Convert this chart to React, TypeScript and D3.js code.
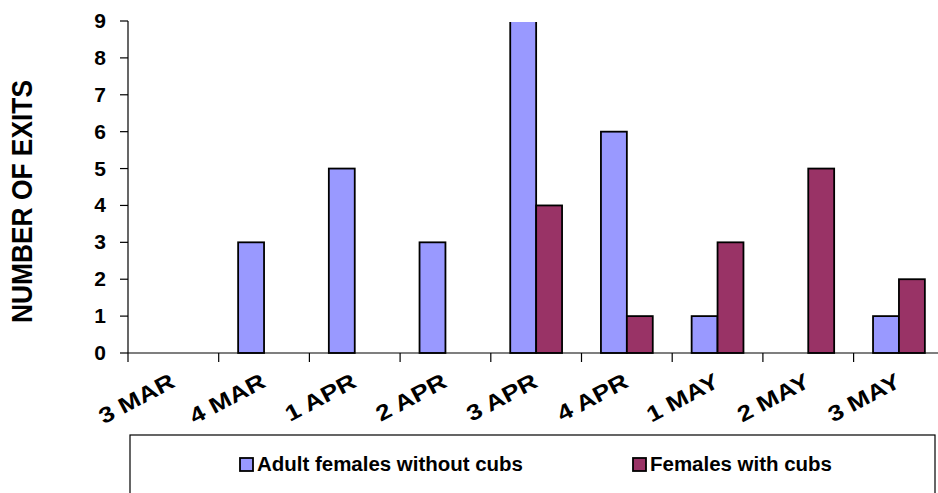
import React from "react";
import * as d3 from "d3";

const categories = ["3 MAR", "4 MAR", "1 APR", "2 APR", "3 APR", "4 APR", "1 MAY", "2 MAY", "3 MAY"];
const seriesNames = ["Adult females without cubs", "Females with cubs"];
const withoutCubs = [0, 3, 5, 3, 9, 6, 1, 0, 1];
const withCubs = [0, 0, 0, 0, 4, 1, 3, 5, 2];
const yTicks = [0, 1, 2, 3, 4, 5, 6, 7, 8, 9];
const colors = ["#9999FF", "#993366"];

const W = 938;
const H = 493;
const FONT = "'Liberation Sans', Arial, sans-serif";

export default function App() {
  const left = 128;
  const step = 90.7;
  const right = left + step * categories.length;
  const top = 21;
  const bottom = 353;

  const x = d3.scaleBand<string>().domain(categories).range([left, right]).paddingInner(0).paddingOuter(0);
  const bw = x.bandwidth();
  const barW = bw / 3.5;
  const x1 = d3
    .scaleBand<string>()
    .domain(seriesNames)
    .range([bw / 2 - barW, bw / 2 + barW]);
  const y = d3.scaleLinear().domain([0, 9]).range([bottom, top]);

  const series = [withoutCubs, withCubs];

  return (
    <svg
      width={W}
      height={H}
      style={{ position: "absolute", left: 0, top: 0, background: "#fff" }}
      fontFamily={FONT}
    >
      <defs>
        <clipPath id="plot">
          <rect x={left} y={top + 1} width={W - left} height={bottom - top + 2} />
        </clipPath>
      </defs>
      <rect x={0} y={0} width={W} height={H} fill="#fff" />

      {/* bars */}
      <g clipPath="url(#plot)">
        {categories.map((c, i) =>
          series.map((s, k) =>
            s[i] > 0 ? (
              <rect
                key={c + k}
                x={(x(c) as number) + (x1(seriesNames[k]) as number)}
                y={y(s[i])}
                width={x1.bandwidth()}
                height={y(0) - y(s[i])}
                fill={colors[k]}
                stroke="#000"
                strokeWidth={1.8}
              />
            ) : null
          )
        )}
      </g>

      {/* y axis */}
      <line x1={left} x2={left} y1={top} y2={bottom} stroke="#000" strokeWidth={1.2} />
      {yTicks.map((t) => (
        <g key={t}>
          <line x1={left - 8} x2={left} y1={y(t)} y2={y(t)} stroke="#000" strokeWidth={1.2} />
          <text
            x={106}
            y={y(t) + 7}
            textAnchor="end"
            fontSize={21}
            fontWeight="bold"
            fill="#000"
          >
            {t}
          </text>
        </g>
      ))}

      {/* x axis */}
      <line x1={left} x2={W} y1={bottom} y2={bottom} stroke="#000" strokeWidth={1.2} />
      {categories.map((c) => (
        <line
          key={"t" + c}
          x1={x(c) as number}
          x2={x(c) as number}
          y1={bottom}
          y2={bottom + 9}
          stroke="#000"
          strokeWidth={1.2}
        />
      ))}
      {categories.map((c) => {
        const cx = (x(c) as number) + bw / 2;
        return (
          <text
            key={"l" + c}
            transform={`translate(${cx + 3},${386}) rotate(-28) scale(1.2,1)`}
            textAnchor="end"
            fontSize={22}
            fontWeight="bold"
            fill="#000"
          >
            {c}
          </text>
        );
      })}

      {/* y title */}
      <text
        transform={`translate(32,201.5) rotate(-90)`}
        textAnchor="middle"
        fontSize={29}
        fontWeight="bold"
        fill="#000"
        textLength={243}
        lengthAdjust="spacingAndGlyphs"
      >
        NUMBER OF EXITS
      </text>

      {/* legend */}
      <rect x={130} y={435} width={805} height={100} fill="#fff" stroke="#000" strokeWidth={1.2} />
      {seriesNames.map((n, k) => {
        const lx = k === 0 ? 240 : 633;
        const tl = k === 0 ? 266 : 182;
        return (
          <g key={n}>
            <rect x={lx} y={458} width={13} height={13} fill={colors[k]} stroke="#000" strokeWidth={1.8} />
            <text
              x={lx + 17}
              y={471}
              fontSize={20}
              fontWeight="bold"
              fill="#000"
              textLength={tl}
              lengthAdjust="spacingAndGlyphs"
            >
              {n}
            </text>
          </g>
        );
      })}
    </svg>
  );
}
